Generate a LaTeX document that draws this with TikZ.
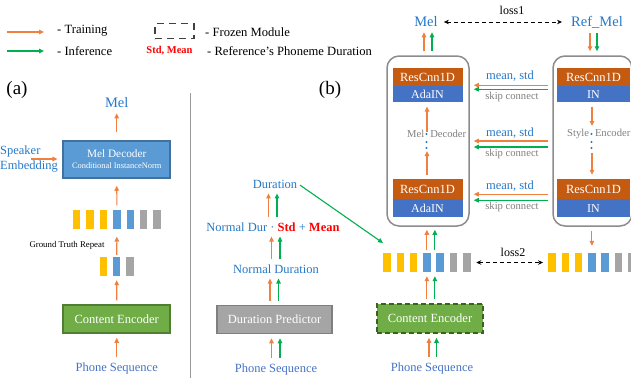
\documentclass[tikz,border=0pt]{standalone}
\usepackage{fontspec}
\setmainfont{Liberation Serif}
\usetikzlibrary{arrows.meta,positioning,calc}
\definecolor{trainc}{HTML}{F08040}
\definecolor{inferc}{HTML}{00B050}
\definecolor{txtblue}{HTML}{2478C8}
\definecolor{seqblue}{HTML}{4472C4}
\definecolor{melfill}{HTML}{5B9BD5}
\definecolor{melline}{HTML}{41719C}
\definecolor{encfill}{HTML}{70AD47}
\definecolor{encline}{HTML}{507E32}
\definecolor{encdash}{HTML}{3B6222}
\definecolor{predfill}{HTML}{A5A5A5}
\definecolor{predline}{HTML}{7F7F7F}
\definecolor{resfill}{HTML}{C55A11}
\definecolor{infill}{HTML}{4472C4}
\definecolor{baryel}{HTML}{FFC000}
\definecolor{barblue}{HTML}{5B9BD5}
\definecolor{bargray}{HTML}{A5A5A5}
\definecolor{modline}{HTML}{8C8C8C}
\definecolor{softgray}{HTML}{7F7F7F}
\newcommand{\setfs}[1]{\fontsize{#1}{#1}\selectfont}
\tikzset{
  trarrow/.style={draw=trainc, line width=1.1pt, -{Triangle[length=5pt,width=4.5pt]},
    shorten <=4pt, shorten >=4pt},
  infarrow/.style={trarrow, draw=inferc},
  lossarrow/.style={{Stealth[length=5pt,width=4.5pt]}-{Stealth[length=5pt,width=4.5pt]},
    line width=0.9pt, dash pattern=on 4pt off 3pt},
  bar/.style={minimum width=7.5pt, minimum height=19pt, inner sep=0pt},
  resblk/.style={fill=resfill, text=white, minimum height=18pt, inner sep=0pt, font=\setfs{12.5}},
  inblk/.style={fill=infill, text=white, minimum height=16pt, inner sep=0pt, font=\setfs{12}},
  modbox/.style={draw=modline, line width=1.5pt, rounded corners=12pt, minimum height=170pt},
  encbox/.style={fill=encfill, draw=encline, line width=1.5pt, minimum width=107pt,
    minimum height=28pt, text=white, font=\setfs{12.5}},
  bluetxt/.style={text=txtblue, font=\setfs{12.5}},
  seqtxt/.style={text=seqblue, font=\setfs{12.5}},
  graytxt/.style={text=softgray, font=\setfs{10.6}},
  bigtxt/.style={text=txtblue, font=\setfs{14.5}},
  legtxt/.style={anchor=west, font=\setfs{12.6}}
}
\begin{document}
\begin{tikzpicture}[x=1pt, y=-1pt, every node/.style={inner sep=1pt}]
  \useasboundingbox (0,0) rectangle (631,378);
  % legend
  \coordinate (ltra) at (7,32);
  \coordinate (ltrb) at (44,32);
  \coordinate (linfa) at (7,51);
  \coordinate (linfb) at (44,51);
  \draw[trarrow, shorten <=0pt, shorten >=0pt] (ltra) -- (ltrb);
  \draw[infarrow, shorten <=0pt, shorten >=0pt] (linfa) -- (linfb);
  \node[legtxt] (ltrt) at (56,31) {- Training};
  \node[legtxt] (linft) at (56,51) {- Inference};
  \node[draw=black!75, line width=1.5pt, dash pattern=on 7pt off 5pt,
    minimum width=39pt, minimum height=15pt] (lfrz) at (174.5,31) {};
  \node[legtxt] (lfrzt) at (204,32) {- Frozen Module};
  \node[text=red, font=\bfseries\setfs{10.5}] (lstd) at (169.5,51) {Std, Mean};
  \node[legtxt] (lreft) at (206,51) {- Reference's Phoneme Duration};

  % (a)
  \node[font=\setfs{19}] (alab) at (17,90) {(a)};
  \node[bigtxt] (amel) at (116.7,103) {Mel};
  \node[fill=melfill, draw=melline, line width=1.5pt, minimum width=107pt,
    minimum height=37pt, text=white, align=center] (mdec) at (116.7,159.5)
    {{\setfs{11.3}Mel Decoder}\\[-1pt]{\setfs{8.4}Conditional InstanceNorm}};
  \node[anchor=west, align=left, text=txtblue, font=\fontsize{12.5}{15}\selectfont]
    (spk) at (-1,159.5) {Speaker\\Embedding};
  \coordinate (spka) at (31,159);
  \draw[trarrow, shorten <=0pt, shorten >=5pt] (spka) -- (spka -| mdec.west);
  \foreach \c [count=\i] in {baryel,baryel,baryel,barblue,barblue,bargray,bargray}
    \node[bar, fill=\c] (ra\i) at (63.3+13.4*\i, 219) {};
  \foreach \c [count=\i] in {baryel,barblue,bargray}
    \node[bar, fill=\c] (rb\i) at (89.9+13.4*\i, 266.5) {};
  \node[font=\setfs{8.8}] (gtr) at (67,245) {Ground Truth Repeat};
  \node[encbox] (aenc) at (116.7,319) {Content Encoder};
  \node[seqtxt] (aseq) at (116.7,368) {Phone Sequence};
  \draw[trarrow] (aseq.north) -- (aenc.south);
  \draw[trarrow] (aenc.north) -- (rb2.south);
  \draw[trarrow, shorten <=2pt, shorten >=8pt] (rb2.north) -- (ra4.south);
  \draw[trarrow, shorten >=7pt] (ra4.north) -- (mdec.south);
  \draw[trarrow, shorten <=8pt] (mdec.north) -- (amel.south);

  \draw[line width=1pt, black!40] (190,93) -- (190,378);

  % (b) duration branch
  \node[font=\setfs{19}] (blab) at (330,90) {(b)};
  \node[bluetxt] (bdur) at (275,184) {Duration};
  \node[bluetxt] (bnd2) at (273,227) {Normal Dur · \textcolor{red}{\textbf{Std}} + \textcolor{red}{\textbf{Mean}}};
  \node[bluetxt] (bnd) at (276,269) {Normal Duration};
  \node[fill=predfill, draw=predline, line width=1.5pt, minimum width=115pt,
    minimum height=28pt, text=white, font=\setfs{12.5}] (bpred) at (274.5,319.5) {Duration Predictor};
  \node[seqtxt] (bseq) at (276,369) {Phone Sequence};
  \foreach \a/\b in {bseq/bpred, bpred/bnd, bnd/bnd2, bnd2/bdur} {
    \draw[trarrow] ([xshift=-4.5pt]\a.north) -- ([xshift=-4.5pt]\a.north |- \b.south);
    \draw[infarrow] ([xshift=4pt]\a.north) -- ([xshift=4pt]\a.north |- \b.south);
  }
  \coordinate (bduren) at (383,243);
  \draw[infarrow, shorten <=2pt, shorten >=0pt] (bdur.east) -- (bduren);

  % (b) style transfer
  \node[bigtxt] (bmel) at (426,22) {Mel};
  \node[bigtxt] (bref) at (597,22) {Ref\_Mel};
  \node[font=\setfs{12}] (loss1) at (512,10) {loss1};
  \draw[lossarrow, shorten <=5pt, shorten >=8pt] (bmel.east) -- (bref.west);

  \node[modbox, minimum width=82pt] (decb) at (428,141) {};
  \node[modbox, minimum width=79pt] (encb) at (592.5,141) {};

  \node[resblk, minimum width=70pt] (resa) at (427.5,77) {ResCnn1D};
  \node[inblk, minimum width=70pt, below=0pt of resa] (adaa) {AdaIN};
  \node[resblk, minimum width=70pt, minimum height=20pt] (resb) at (427.5,189) {ResCnn1D};
  \node[inblk, minimum width=70pt, minimum height=18pt, below=0pt of resb] (adab) {AdaIN};
  \node[resblk, minimum width=73pt] (resc) at (593.5,77) {ResCnn1D};
  \node[inblk, minimum width=73pt, below=0pt of resc] (inna) {IN};
  \node[resblk, minimum width=73pt, minimum height=20pt] (resd) at (593.5,189) {ResCnn1D};
  \node[inblk, minimum width=73pt, minimum height=18pt, below=0pt of resd] (innb) {IN};

  \node[graytxt, anchor=west] (declab) at (406,134) {Mel\hspace{6pt}Decoder};
  \node[graytxt, anchor=west] (enclab) at (566,134) {Style\hspace{6pt}Encoder};
  \foreach \y in {134,142,148} {
    \fill[txtblue] (426.5,\y) circle (1.2pt);
    \fill[txtblue] (591.5,\y) circle (1.2pt);
  }
  \coordinate (dectop) at (427,132);
  \coordinate (decbot) at (427,151);
  \coordinate (enctop) at (592,130);
  \coordinate (encbot) at (592,151);
  \draw[trarrow, shorten <=0pt] (dectop) -- (dectop |- adaa.south);
  \draw[trarrow, shorten >=0pt] (decbot |- resb.north) -- (decbot);
  \draw[trarrow] (enctop |- inna.south) -- (enctop);
  \draw[trarrow, shorten <=2pt] (encbot) -- (encbot |- resd.north);

  \draw[trarrow] ([xshift=-2pt]bmel.south |- decb.north) -- ([xshift=-2pt]bmel.south);
  \draw[infarrow] ([xshift=6pt]bmel.south |- decb.north) -- ([xshift=6pt]bmel.south);
  \draw[trarrow] ([xshift=-7pt]bref.south) -- ([xshift=-7pt]bref.south |- encb.north);
  \draw[infarrow] (bref.south) -- (bref.south |- encb.north);

  % mean, std / skip connect
  \coordinate (midrow) at (510,141);
  \draw[trarrow] ([yshift=1pt]encb.west |- resa.south) -- ([yshift=1pt]decb.east |- resa.south);
  \draw[infarrow] ([yshift=-3pt]encb.west |- resa.south) -- ([yshift=-3pt]decb.east |- resa.south);
  \draw[trarrow] (encb.west |- midrow) -- (decb.east |- midrow);
  \draw[infarrow] ([yshift=-6pt]encb.west |- midrow) -- ([yshift=-6pt]decb.east |- midrow);
  \draw[trarrow] ([yshift=5pt]encb.west |- resb.south) -- ([yshift=5pt]decb.east |- resb.south);
  \draw[infarrow] ([yshift=-1pt]encb.west |- resb.south) -- ([yshift=-1pt]decb.east |- resb.south);
  \node[bluetxt] (ms1) at (510,76) {mean, std};
  \node[graytxt] (sk1) at (512,97) {skip connect};
  \node[bluetxt] (ms2) at (510,133) {mean, std};
  \node[graytxt] (sk2) at (512,154) {skip connect};
  \node[bluetxt] (ms3) at (510,186) {mean, std};
  \node[graytxt] (sk3) at (512,207) {skip connect};

  % frame rows
  \foreach \c [count=\i] in {baryel,baryel,baryel,barblue,barblue,bargray,bargray}
    \node[bar, fill=\c] (rc\i) at (373.7+13.3*\i, 262.5) {};
  \foreach \c [count=\i] in {baryel,baryel,baryel,barblue,barblue,bargray,bargray}
    \node[bar, fill=\c] (rd\i) at (538.7+13.3*\i, 262.5) {};
  \node[font=\setfs{12}] (loss2) at (513,252) {loss2};
  \draw[lossarrow, shorten <=5.5pt, shorten >=5pt] (rc7.east) -- (rd1.west);
  \draw[trarrow, shorten <=3pt, shorten >=3pt] (rc4.north) -- (rc4.north |- decb.south);
  \draw[infarrow, shorten <=3pt, shorten >=3pt] ([xshift=8pt]rc4.north) -- ([xshift=8pt]rc4.north |- decb.south);
  \draw[trarrow, shorten >=7pt] (rd4.north |- encb.south) -- (rd4.north);

  \node[encbox, draw=encdash, dash pattern=on 5pt off 3pt, minimum width=106pt,
    minimum height=29pt] (benc) at (430,318.5) {Content Encoder};
  \node[seqtxt] (bseq2) at (432,368) {Phone Sequence};
  \draw[trarrow] (rc4.south |- benc.north) -- (rc4.south);
  \draw[infarrow] ([xshift=8pt]rc4.south |- benc.north) -- ([xshift=8pt]rc4.south);
  \draw[trarrow] ([xshift=-3pt]bseq2.north) -- ([xshift=-3pt]bseq2.north |- benc.south);
  \draw[infarrow] ([xshift=4.5pt]bseq2.north) -- ([xshift=4.5pt]bseq2.north |- benc.south);
\end{tikzpicture}
\end{document}
